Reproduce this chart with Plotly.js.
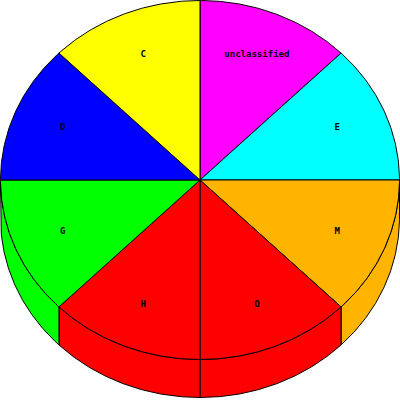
<!DOCTYPE html>
<html>
<head>
<meta charset="utf-8">
<script src="https://cdn.plot.ly/plotly-3.0.1.min.js"></script>
<style>html,body{margin:0;padding:0;background:#fff;}#chart{width:400px;height:400px;}</style>
</head>
<body>
<div id="chart"></div>
<script>
// Data (clockwise from 12 o'clock)
const labels = ["unclassified", "E", "M", "O", "H", "G", "D", "C"];
const values = [1, 1, 1, 1, 1, 1, 1, 1];
const colors = ["#FF00FF", "#00FFFF", "#FFB400", "#FF0000", "#FF0000", "#00FF00", "#0000FF", "#FFFF00"];

// Geometry of the 3D pie (drawing style only)
const RX = 199.5, RY = 179.5, DEPTH = 38, LABEL_RX = 0.745, LABEL_RY = 0.755, START = 90;

const total = values.reduce((a, b) => a + b, 0);
const rad = d => d * Math.PI / 180;
function arc(a1, a2, dy) {
  const n = Math.max(2, Math.ceil(Math.abs(a2 - a1) * 2));
  const xs = [], ys = [];
  for (let k = 0; k <= n; k++) {
    const a = a1 + (a2 - a1) * k / n;
    xs.push(RX * Math.cos(rad(a)));
    ys.push(RY * Math.sin(rad(a)) - (dy || 0));
  }
  return [xs, ys];
}

const sideTraces = [], topTraces = [];
const lx = [], ly = [];
let cum = 0;
values.forEach((v, i) => {
  const a1 = START - cum / total * 360;
  const a2 = START - (cum + v) / total * 360;
  cum += v;
  // top face
  const [ax, ay] = arc(a1, a2, 0);
  topTraces.push({
    type: "scatter", mode: "lines", fill: "toself", fillcolor: colors[i],
    x: [0, ...ax, 0], y: [0, ...ay, 0],
    line: { color: "#000", width: 1 }, hoverinfo: "skip", showlegend: false
  });
  // side face (front half only: angles between -180 and 0)
  const hi = Math.min(a1, 0), lo = Math.max(a2, -180);
  if (hi > lo) {
    const [tx, ty] = arc(hi, lo, 0);
    const [bx, by] = arc(lo, hi, DEPTH);
    sideTraces.push({
      type: "scatter", mode: "lines", fill: "toself", fillcolor: colors[i],
      x: [...tx, ...bx, tx[0]], y: [...ty, ...by, ty[0]],
      line: { color: "#000", width: 1 }, hoverinfo: "skip", showlegend: false
    });
  }
  const mid = (a1 + a2) / 2;
  lx.push(LABEL_RX * RX * Math.cos(rad(mid)));
  ly.push(LABEL_RY * RY * Math.sin(rad(mid)));
});

const textTrace = {
  type: "scatter", mode: "text", x: lx, y: ly, text: labels,
  textfont: { family: "DejaVu Sans Mono", size: 9, color: "#000", weight: "bold" },
  hoverinfo: "skip", showlegend: false
};

Plotly.newPlot("chart", [...sideTraces, ...topTraces, textTrace], {
  width: 400, height: 400,
  margin: { l: 0, r: 0, t: 0, b: 0, pad: 0 },
  paper_bgcolor: "#fff", plot_bgcolor: "#fff",
  xaxis: { range: [-200, 200], visible: false, fixedrange: true },
  yaxis: { range: [-220, 180], visible: false, fixedrange: true },
  showlegend: false
}, { staticPlot: true });
</script>
</body>
</html>
